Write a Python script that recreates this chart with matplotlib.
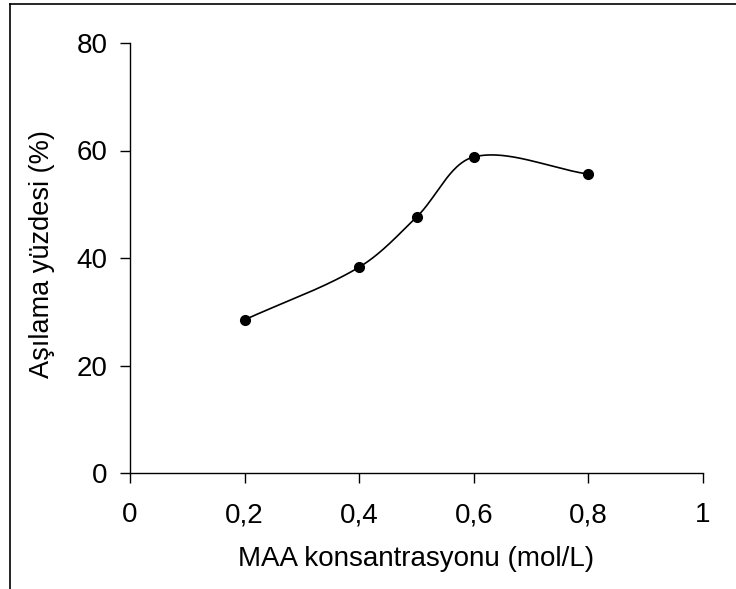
import numpy as np
import matplotlib
matplotlib.use("Agg")
import matplotlib.pyplot as plt
from matplotlib.lines import Line2D

x_vals = [0.2, 0.4, 0.5, 0.6, 0.8]
y_vals = [28.5, 38.3, 47.6, 58.8, 55.6]
x_ticks = [0, 0.2, 0.4, 0.6, 0.8, 1]
x_tick_labels = ["0", "0,2", "0,4", "0,6", "0,8", "1"]
y_ticks = [0, 20, 40, 60, 80]
x_label = "MAA konsantrasyonu (mol/L)"
y_label = "Aşılama yüzdesi (%)"

plt.rcParams['font.family'] = ['Liberation Sans', 'DejaVu Sans']

fig = plt.figure(figsize=(7.36, 5.89), dpi=100)
ax = fig.add_axes([130/736, 116/589, (703-130)/736, (473-43)/589])
ax.set_xlim(0, 1)
ax.set_ylim(0, 80)

# Smoothed line through the points, computed in screen-like space
sx, sy = 573.0, 430.0 / 80.0
P = np.column_stack([np.array(x_vals) * sx, np.array(y_vals) * sy])
ext = np.vstack([P[0], P, P[-1]])
xs, ys = [], []
t = np.linspace(0, 1, 50)
for i in range(1, len(ext) - 2):
    p0, p1, p2, p3 = ext[i-1], ext[i], ext[i+1], ext[i+2]
    d01 = np.linalg.norm(p1 - p0); d12 = np.linalg.norm(p2 - p1); d23 = np.linalg.norm(p3 - p2)
    f1 = d12 / (d01 + d12) if d01 + d12 > 0 else 0.5
    f2 = d12 / (d12 + d23) if d12 + d23 > 0 else 0.5
    c1 = p1 + (p2 - p0) * f1 / 3
    c2 = p2 - (p3 - p1) * f2 / 3
    seg = ((1-t)**3)[:, None]*p1 + (3*(1-t)**2*t)[:, None]*c1 + (3*(1-t)*t**2)[:, None]*c2 + (t**3)[:, None]*p2
    xs.extend(seg[:, 0] / sx); ys.extend(seg[:, 1] / sy)
ax.plot(xs, ys, color='black', lw=1.2, zorder=2)
ax.plot(x_vals, y_vals, 'o', color='black', ms=7, zorder=3)

ax.set_xticks(x_ticks)
ax.set_xticklabels(x_tick_labels)
ax.set_yticks(y_ticks)
for s in ['top', 'right']:
    ax.spines[s].set_visible(False)
for s in ['left', 'bottom']:
    ax.spines[s].set_linewidth(1.0)
ax.tick_params(direction='out', length=7, width=1.0, labelsize=20)
ax.tick_params(axis='y', pad=9)
ax.tick_params(axis='x', pad=14)
ax.set_xlabel(x_label, fontsize=20, labelpad=13)
ax.set_ylabel(y_label, fontsize=19.5, labelpad=16, y=0.508)

# figure frame lines (left and top)
fig.add_artist(Line2D([10/736, 10/736], [0, 1 - 4/589], transform=fig.transFigure, color='black', lw=1.2))
fig.add_artist(Line2D([10/736, 1], [1 - 4/589, 1 - 4/589], transform=fig.transFigure, color='black', lw=1.2))

fig.savefig("out.png", dpi=100, facecolor='white')
